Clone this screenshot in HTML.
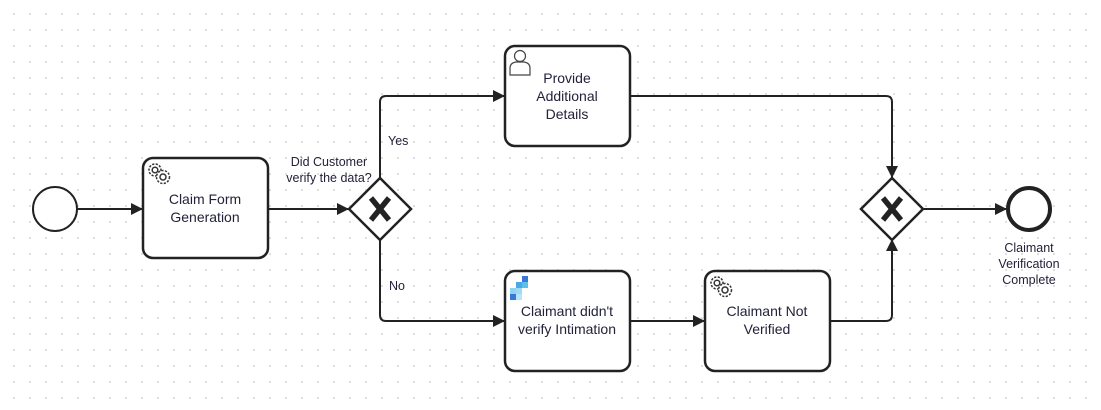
<!DOCTYPE html>
<html><head><style>
html,body{margin:0;padding:0;}
body{width:1101px;height:410px;background:#fff;background-image:radial-gradient(circle,#d6d6d6 0.8px,transparent 1.1px);background-size:16px 16px;background-position:6px 6px;overflow:hidden;}
svg{position:absolute;left:0;top:0;}
text{font-family:"Liberation Sans",sans-serif;fill:#22223a;}
</style></head><body>
<svg width="1101" height="410" viewBox="0 0 1101 410">
<defs><marker id="a" markerWidth="12" markerHeight="12" refX="11" refY="6" orient="auto" markerUnits="userSpaceOnUse"><path d="M0,0 L12,6 L0,12 Z" fill="#222"/></marker></defs>
<g fill="none" stroke="#222" stroke-width="2">
<line x1="77" y1="209" x2="142" y2="209" marker-end="url(#a)"/>
<line x1="268" y1="209" x2="348" y2="209" marker-end="url(#a)"/>
<path d="M380,178 V102 Q380,96 386,96 H504" marker-end="url(#a)"/>
<path d="M380,240 V315 Q380,321 386,321 H504" marker-end="url(#a)"/>
<line x1="630" y1="321" x2="704" y2="321" marker-end="url(#a)"/>
<path d="M630,96 H886 Q892,96 892,102 V177" marker-end="url(#a)"/>
<path d="M830,321 H886 Q892,321 892,315 V240" marker-end="url(#a)"/>
<line x1="924" y1="209" x2="1006" y2="209" marker-end="url(#a)"/>
</g>
<circle cx="55" cy="209" r="22" fill="#fff" stroke="#222" stroke-width="2"/>
<circle cx="1029" cy="209" r="21" fill="#fff" stroke="#222" stroke-width="4"/>
<g fill="#fff" stroke="#222" stroke-width="2.5">
<rect x="143" y="158" width="125" height="100" rx="10"/>
<rect x="505" y="46" width="125" height="100" rx="10"/>
<rect x="505" y="271" width="125" height="100" rx="10"/>
<rect x="705" y="271" width="125" height="100" rx="10"/>
<path d="M380,178 L411,209 L380,240 L349,209 Z"/>
<path d="M892,178 L923,209 L892,240 L861,209 Z"/>
</g>
<g stroke="#222" stroke-width="5.5" stroke-linecap="butt">
<path d="M371,198 L389,220 M389,198 L371,220"/>
<path d="M883,198 L901,220 M901,198 L883,220"/>
</g>
<g fill="none" stroke="#333" stroke-width="1.5">
<circle cx="155" cy="170" r="6" stroke-dasharray="2.2 1.4"/><circle cx="155" cy="170" r="2.8"/>
<circle cx="163" cy="177" r="6.5" stroke-dasharray="2.2 1.4" fill="#fff"/><circle cx="163" cy="177" r="3"/>
<circle cx="717" cy="283" r="6" stroke-dasharray="2.2 1.4"/><circle cx="717" cy="283" r="2.8"/>
<circle cx="725" cy="290" r="6.5" stroke-dasharray="2.2 1.4" fill="#fff"/><circle cx="725" cy="290" r="3"/>
</g>
<g fill="#fff" stroke="#444" stroke-width="1.2">
<path d="M510,75 V68 Q510,63 516,62 H524 Q530,63 530,68 V75 Z"/>
<circle cx="520" cy="56" r="5.5"/>
</g>
<rect x="522" y="276" width="6" height="6" fill="#3a78d8"/>
<rect x="516" y="282" width="6" height="6" fill="#4aa8e8"/>
<rect x="522" y="282" width="6" height="6" fill="#5cc0ec"/>
<rect x="510" y="288" width="6" height="6" fill="#8fd2f2"/>
<rect x="516" y="288" width="6" height="6" fill="#9edaf4"/>
<rect x="510" y="294" width="6" height="6" fill="#3a78d8"/>
<rect x="516" y="294" width="6" height="6" fill="#b8e4f8"/>
<g font-size="14" text-anchor="middle">
<text x="205" y="204">Claim Form</text><text x="205" y="222">Generation</text>
<text x="567" y="83">Provide</text><text x="567" y="101">Additional</text><text x="567" y="119">Details</text>
<text x="567" y="316">Claimant didn't</text><text x="567" y="334">verify Intimation</text>
<text x="767" y="316">Claimant Not</text><text x="767" y="334">Verified</text>
</g>
<g font-size="12.5" text-anchor="middle">
<text x="329" y="166">Did Customer</text><text x="329" y="182">verify the data?</text>
<text x="1029" y="252">Claimant</text><text x="1029" y="268">Verification</text><text x="1029" y="284">Complete</text>
</g>
<g font-size="12.5"><text x="388" y="145">Yes</text><text x="389" y="290">No</text></g>
</svg>
</body></html>
